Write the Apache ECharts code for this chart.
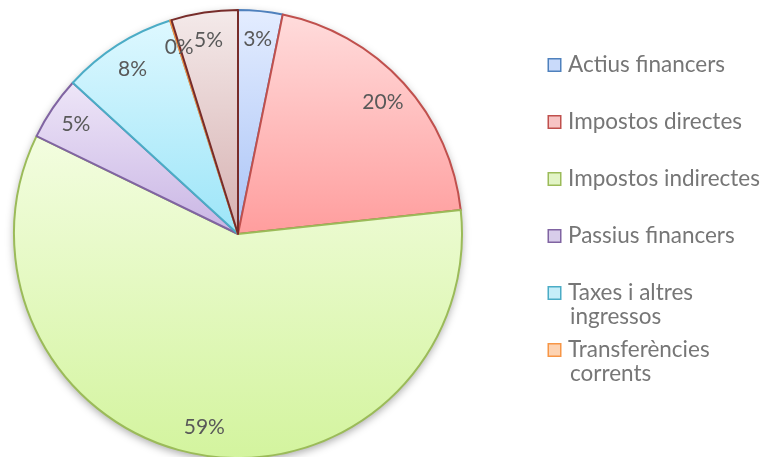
<!DOCTYPE html>
<html>
<head>
<meta charset="utf-8">
<script src="https://cdn.jsdelivr.net/npm/echarts@6/dist/echarts.min.js"></script>
<style>html,body{margin:0;padding:0;background:#fff;}#c{width:765px;height:457px;}</style>
</head>
<body>
<div id="c"></div>
<script>
// ---- data ----
const categories = ['Actius financers','Impostos directes','Impostos indirectes','Passius financers','Taxes i altres ingressos','Transferències corrents','Transferències de capital'];
const values = [3.2, 20.1, 58.9, 4.6, 8.3, 0.1, 4.8];
const legendNames = ['Actius financers','Impostos directes','Impostos indirectes','Passius financers','Taxes i altres ingressos','Transferències corrents'];
const legendLines = [['Actius financers'],['Impostos directes'],['Impostos indirectes'],['Passius financers'],['Taxes i altres','ingressos'],['Transferències','corrents']];

// ---- styles ----
const topCol = ['#e4edff','#ffdcdc','#f3fde0','#eee6f8','#def8ff','#fde3cf','#f4eaea'];
const botCol = ['#a9c3f6','#ff9d9d','#d3f49e','#c9b5e4','#9ce5f8','#fbb98a','#d6b0b0'];
const edgeCol = ['#4f81bd','#c0504d','#9bbb59','#8064a2','#4bacc6','#f79646','#772c2a'];
const boxCol = ['#c9dafa','#f7c4c4','#e2f4c6','#d8cdea','#c6eef9','#fdd3b2'];

const chart = echarts.init(document.getElementById('c'), null, {renderer:'canvas'});
const center = [238, 234];
const R = 224;

const mainData = categories.map((n, i) => ({
  name: n, value: values[i],
  itemStyle: {
    color: new echarts.graphic.LinearGradient(0, 0, 0, 1, [
      {offset: 0, color: topCol[i]}, {offset: 1, color: botCol[i]}
    ]),
    borderColor: edgeCol[i], borderWidth: 2
  }
}));
const labelData = categories.map((n, i) => ({name: n, value: values[i]}));

const rich = {
  t: {fontFamily: 'Lato', fontSize: 22.5, color: '#767676', lineHeight: 24},
  g: {width: 8, lineHeight: 24},
  ind: {width: 21, lineHeight: 24}
};
boxCol.forEach((c, i) => {
  rich['b' + i] = {width: 11, height: 11, backgroundColor: c, borderColor: edgeCol[i], borderWidth: 1.5, lineHeight: 24};
});

chart.setOption({
  animation: false,
  legend: {
    orient: 'vertical', left: 537, top: 48,
    data: legendNames,
    itemWidth: 1, itemHeight: 1, itemGap: 9,
    itemStyle: {opacity: 0},
    selectedMode: false,
    formatter: function (name) {
      const i = legendNames.indexOf(name);
      const l = legendLines[i];
      return '{b' + i + '|}{g|}{t|' + l[0] + '}\n{ind|}{t|' + (l[1] || ' ') + '}';
    },
    textStyle: {rich: rich, lineHeight: 24}
  },
  series: [
    {
      type: 'pie', center: center, radius: R, silent: true, z: 1,
      startAngle: 90, label: {show: false}, labelLine: {show: false},
      data: [{name: 'bg', value: 1, itemStyle: {color: '#ffffff', shadowBlur: 8, shadowOffsetY: 3, shadowColor: 'rgba(0,0,0,0.35)'}}]
    },
    {
      type: 'pie', center: center, radius: R, startAngle: 90, clockwise: true, z: 2,
      label: {show: false}, labelLine: {show: false}, silent: true,
      data: mainData
    },
    {
      type: 'pie', center: center, radius: [162, R], startAngle: 90, clockwise: true, z: 3,
      silent: true, labelLine: {show: false},
      itemStyle: {color: 'rgba(0,0,0,0)', borderWidth: 0},
      label: {
        show: true, position: 'inside', fontFamily: 'Lato', fontSize: 21, color: '#595959',
        formatter: p => Math.round(p.percent) + '%'
      },
      data: labelData
    }
  ]
});
</script>
</body>
</html>
